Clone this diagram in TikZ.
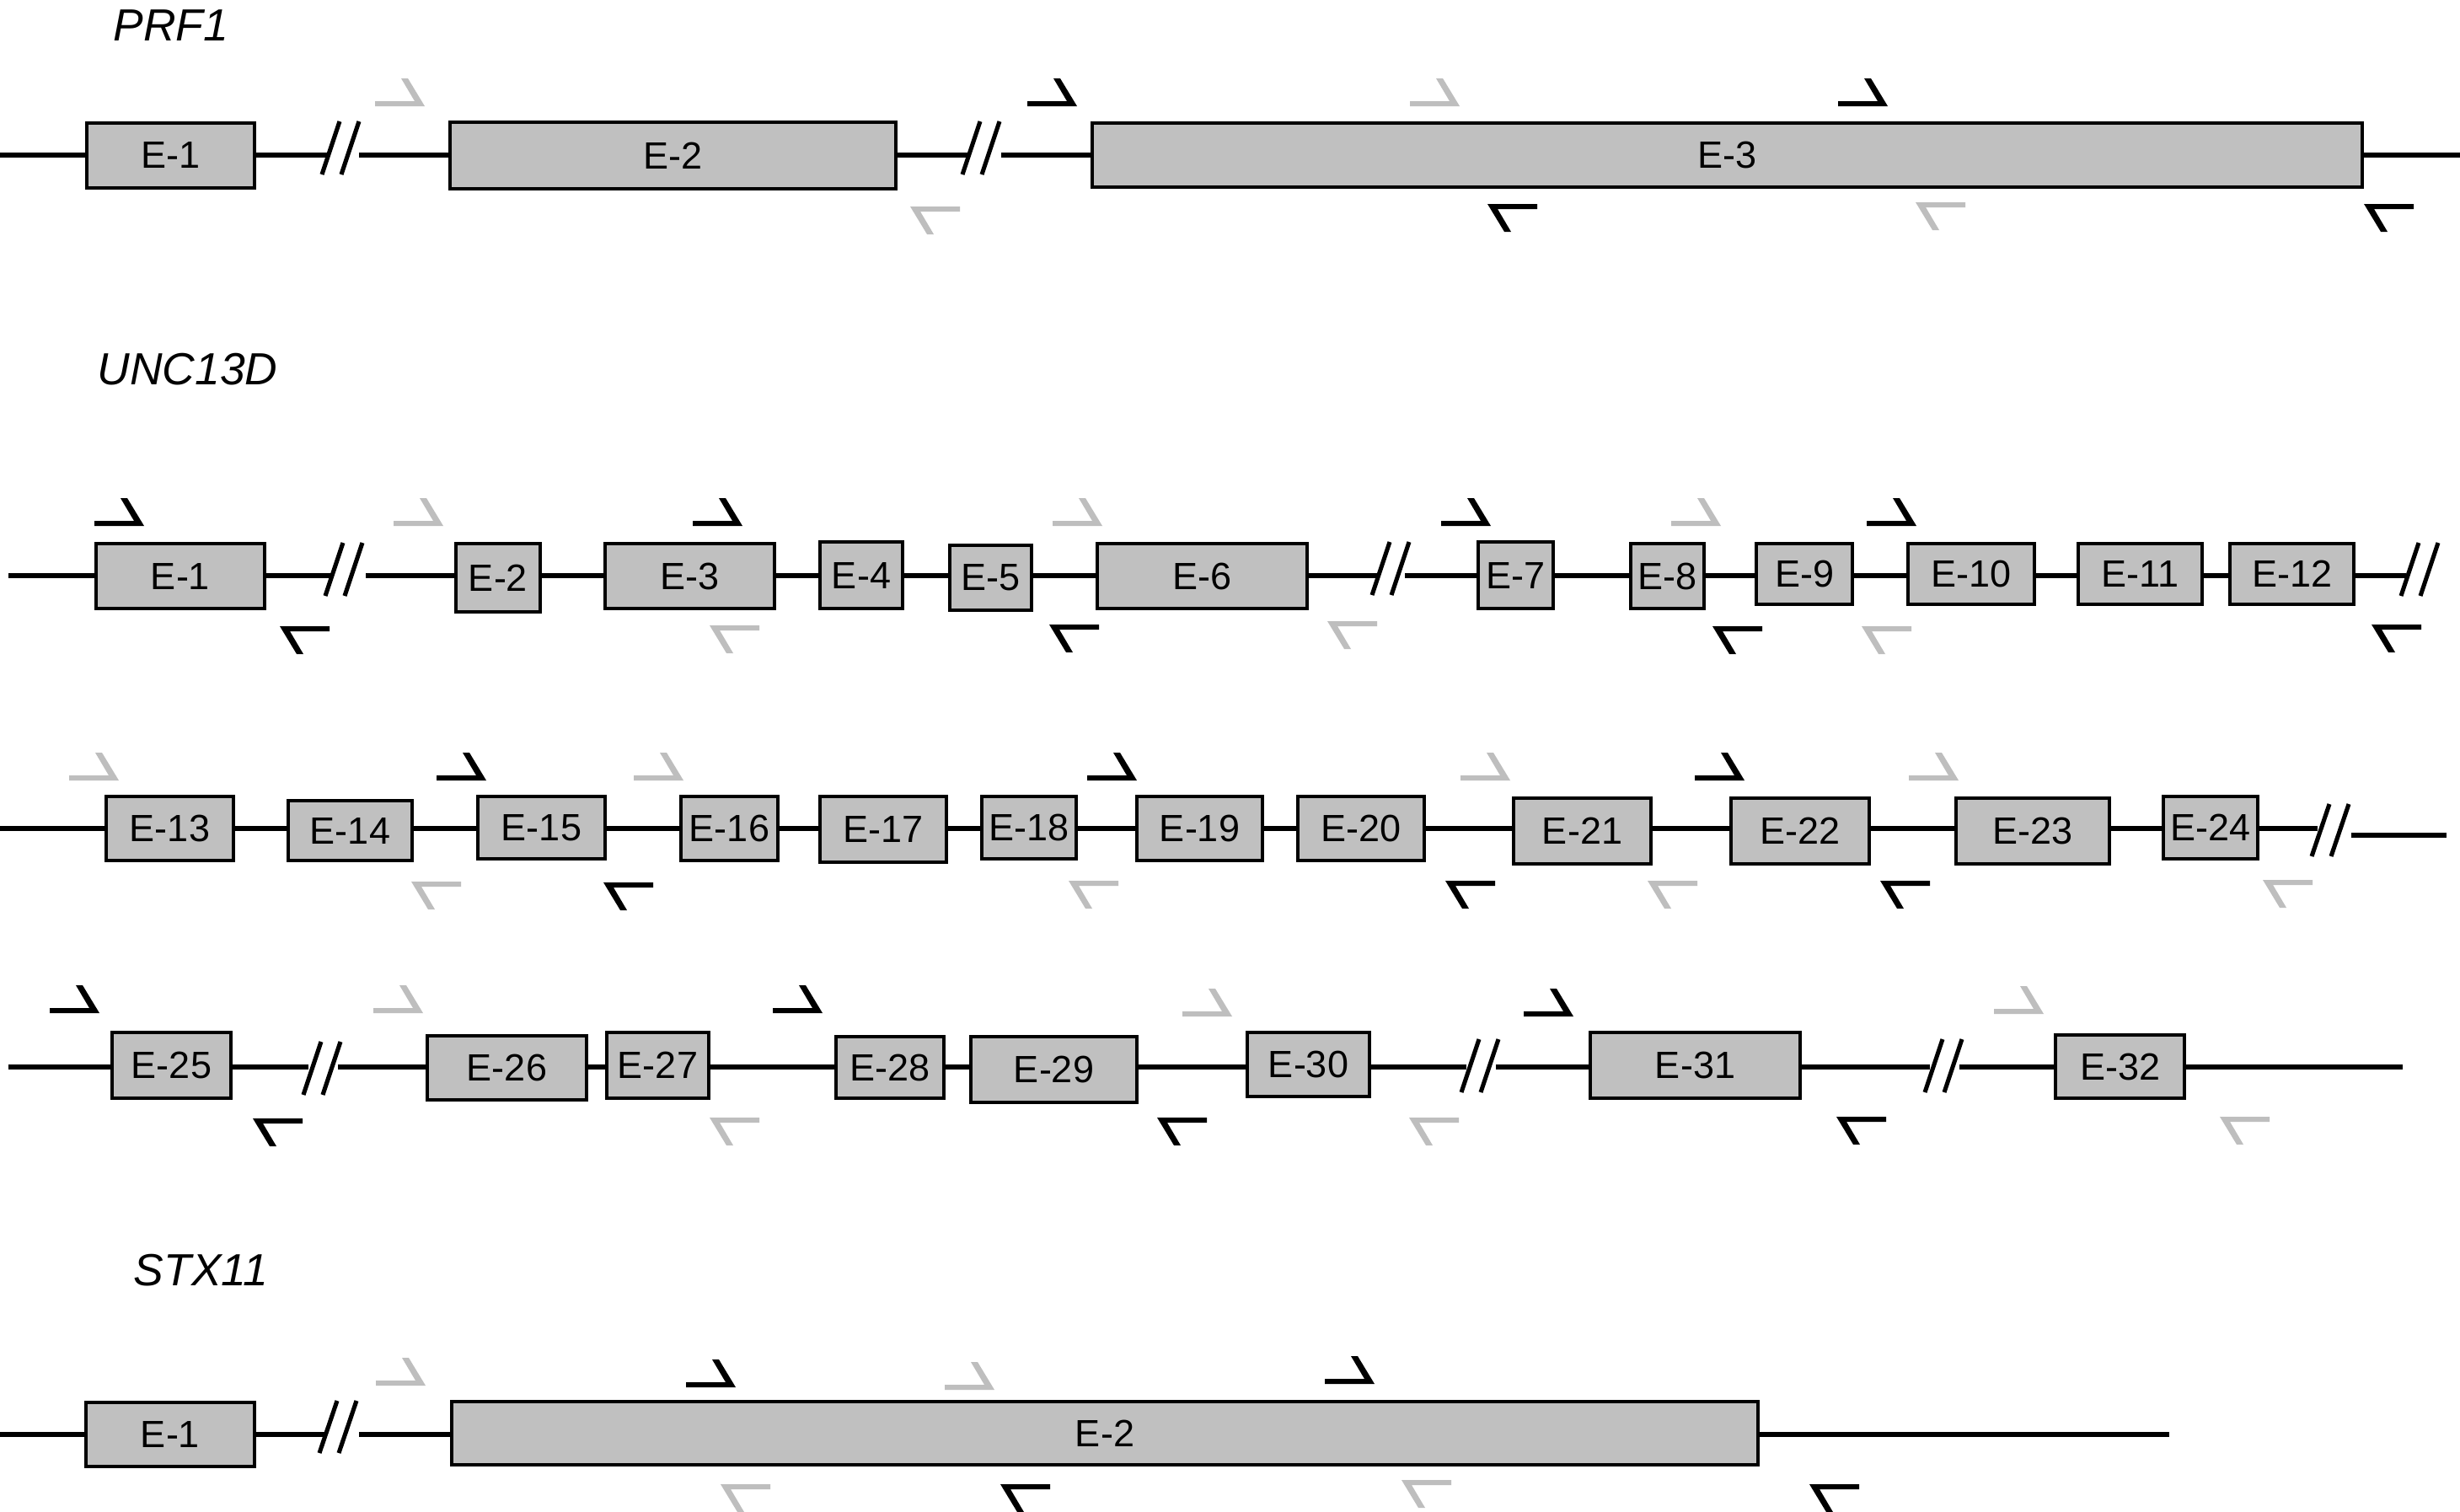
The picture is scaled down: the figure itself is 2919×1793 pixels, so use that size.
\documentclass[tikz,border=0pt]{standalone}
\usepackage{fontspec}
\setmainfont{Liberation Sans}
\definecolor{exonfill}{RGB}{192,192,192}
\definecolor{pgray}{RGB}{190,190,190}
\tikzset{
  exon/.style={draw=black, line width=1.14pt, fill=exonfill, inner sep=0pt,
    font=\fontsize{12.8}{14}\selectfont, text=black},
  bb/.style={line width=1.71pt, line cap=butt},
  slashln/.style={line width=1.45pt, line cap=butt},
  gene/.style={anchor=base west, inner sep=0pt, font=\fontsize{15.2}{18}\selectfont\itshape},
}
% exon box: name, x1, x2, y1, y2, label (pixel units)
\newcommand\exon[6]{\node[exon, minimum width={(#3-#2-4)*0.01cm},
  minimum height={(#5-#4-4)*0.01cm}] (#1) at ({(#2+#3)/2},{(#4+#5)/2}) {#6};}
% backbone segment on row line #1
\newcommand\seg[3]{\draw[bb] (#2 |- #1) -- (#3 |- #1);}
% break mark: bottom x of first slash, bottom y, top y
\newcommand\brk[3]{\draw[slashln] (#1,#2) -- ({#1+21},#3);
  \draw[slashln] ({#1+23},#2) -- ({#1+44},#3);}
% forward primer: colour, tip x, bar y
\newcommand\fwdp[3]{\fill[#1] ({#2-59},{#3+3}) -- ({#2},{#3+3}) -- ({#2-20},{#3-30})
  -- ({#2-28},{#3-30}) -- ({#2-12},{#3-3}) -- ({#2-59},{#3-3}) -- cycle;}
% reverse primer: colour, left x, bar y
\newcommand\revp[3]{\fill[#1] ({#2+59},{#3-3}) -- ({#2},{#3-3}) -- ({#2+20},{#3+30})
  -- ({#2+28},{#3+30}) -- ({#2+12},{#3+3}) -- ({#2+59},{#3+3}) -- cycle;}

\begin{document}
\begin{tikzpicture}[x=0.01cm,y=-0.01cm]
\path[use as bounding box, fill=white] (0,0) rectangle (2919,1793);

% ---------------- PRF1 ----------------
\node[gene] (tprf) at (134,48) {PRF1};
\coordinate (R1) at (0,184);
\exon{p1}{101}{304}{144}{225}{E-1}
\exon{p2}{532}{1065}{143}{226}{E-2}
\exon{p3}{1294}{2805}{144}{224}{E-3}
\coordinate (p0) at (0,184);
\coordinate (pend) at (2919,184);
\coordinate (pa1) at (389,184); \coordinate (pa2) at (426,184);
\coordinate (pb1) at (1149,184); \coordinate (pb2) at (1188,184);
\seg{R1}{p0}{p1.west}
\seg{R1}{p1.east}{pa1}
\seg{R1}{pa2}{p2.west}
\seg{R1}{p2.east}{pb1}
\seg{R1}{pb2}{p3.west}
\seg{R1}{p3.east}{pend}
\brk{382}{207}{144}
\brk{1142}{207}{144}
\fwdp{pgray}{504}{123}
\fwdp{black}{1278}{123}
\fwdp{pgray}{1732}{123}
\fwdp{black}{2240}{123}
\revp{pgray}{1080}{248}
\revp{black}{1765}{245}
\revp{pgray}{2273}{243}
\revp{black}{2805}{245}

% ---------------- UNC13D ----------------
\node[gene] (tunc) at (115,456) {UNC13D};
% row 2
\coordinate (R2) at (0,683);
\exon{u1}{112}{316}{643}{724}{E-1}
\exon{u2}{539}{643}{643}{728}{E-2}
\exon{u3}{716}{921}{643}{724}{E-3}
\exon{u4}{971}{1073}{641}{724}{E-4}
\exon{u5}{1125}{1226}{645}{726}{E-5}
\exon{u6}{1300}{1553}{643}{724}{E-6}
\exon{u7}{1752}{1845}{641}{724}{E-7}
\exon{u8}{1933}{2024}{643}{724}{E-8}
\exon{u9}{2082}{2200}{643}{719}{E-9}
\exon{u10}{2262}{2416}{643}{719}{E-10}
\exon{u11}{2464}{2615}{643}{719}{E-11}
\exon{u12}{2644}{2795}{643}{719}{E-12}
\coordinate (q0) at (10,683);
\coordinate (qa1) at (392,683); \coordinate (qa2) at (434,683);
\coordinate (qb1) at (1634,683); \coordinate (qb2) at (1667,683);
\coordinate (qc1) at (2855,683);
\seg{R2}{q0}{u1.west}
\seg{R2}{u1.east}{qa1}
\seg{R2}{qa2}{u2.west}
\seg{R2}{u2.east}{u3.west}
\seg{R2}{u3.east}{u4.west}
\seg{R2}{u4.east}{u5.west}
\seg{R2}{u5.east}{u6.west}
\seg{R2}{u6.east}{qb1}
\seg{R2}{qb2}{u7.west}
\seg{R2}{u7.east}{u8.west}
\seg{R2}{u8.east}{u9.west}
\seg{R2}{u9.east}{u10.west}
\seg{R2}{u10.east}{u11.west}
\seg{R2}{u11.east}{u12.west}
\seg{R2}{u12.east}{qc1}
\brk{386}{707}{644}
\brk{1628}{706}{643}
\brk{2849}{707}{644}
\fwdp{black}{171}{621}
\fwdp{pgray}{526}{621}
\fwdp{black}{881}{621}
\fwdp{pgray}{1308}{621}
\fwdp{black}{1769}{621}
\fwdp{pgray}{2042}{621}
\fwdp{black}{2274}{621}
\revp{black}{332}{746}
\revp{pgray}{842}{745}
\revp{black}{1245}{744}
\revp{pgray}{1575}{740}
\revp{black}{2032}{746}
\revp{pgray}{2209}{746}
\revp{black}{2814}{744}

% row 3
\coordinate (R3) at (0,983);
\exon{u13}{124}{279}{943}{1023}{E-13}
\exon{u14}{340}{491}{948}{1023}{E-14}
\exon{u15}{565}{720}{943}{1021}{E-15}
\exon{u16}{806}{925}{943}{1023}{E-16}
\exon{u17}{971}{1125}{943}{1025}{E-17}
\exon{u18}{1163}{1279}{943}{1021}{E-18}
\exon{u19}{1347}{1500}{943}{1023}{E-19}
\exon{u20}{1538}{1692}{943}{1023}{E-20}
\exon{u21}{1794}{1961}{945}{1027}{E-21}
\exon{u22}{2052}{2220}{945}{1027}{E-22}
\exon{u23}{2319}{2505}{945}{1027}{E-23}
\exon{u24}{2565}{2681}{943}{1021}{E-24}
\coordinate (r0) at (0,983);
\coordinate (ra1) at (2750,983);
\coordinate (ra2) at (2790,991); \coordinate (rend) at (2903,991);
\seg{R3}{r0}{u13.west}
\seg{R3}{u13.east}{u14.west}
\seg{R3}{u14.east}{u15.west}
\seg{R3}{u15.east}{u16.west}
\seg{R3}{u16.east}{u17.west}
\seg{R3}{u17.east}{u18.west}
\seg{R3}{u18.east}{u19.west}
\seg{R3}{u19.east}{u20.west}
\seg{R3}{u20.east}{u21.west}
\seg{R3}{u21.east}{u22.west}
\seg{R3}{u22.east}{u23.west}
\seg{R3}{u23.east}{u24.west}
\seg{R3}{u24.east}{ra1}
\draw[bb] (ra2) -- (rend);
\brk{2743}{1016}{954}
\fwdp{pgray}{141}{923}
\fwdp{black}{577}{923}
\fwdp{pgray}{811}{923}
\fwdp{black}{1349}{923}
\fwdp{pgray}{1792}{923}
\fwdp{black}{2070}{923}
\fwdp{pgray}{2324}{923}
\revp{pgray}{488}{1049}
\revp{black}{716}{1050}
\revp{pgray}{1268}{1048}
\revp{black}{1715}{1048}
\revp{pgray}{1955}{1048}
\revp{black}{2231}{1048}
\revp{pgray}{2685}{1047}

% row 4
\coordinate (R4) at (0,1266);
\exon{u25}{131}{276}{1223}{1305}{E-25}
\exon{u26}{505}{698}{1227}{1307}{E-26}
\exon{u27}{718}{843}{1223}{1305}{E-27}
\exon{u28}{990}{1122}{1228}{1305}{E-28}
\exon{u29}{1150}{1351}{1228}{1310}{E-29}
\exon{u30}{1478}{1627}{1223}{1303}{E-30}
\exon{u31}{1885}{2138}{1223}{1305}{E-31}
\exon{u32}{2437}{2594}{1226}{1305}{E-32}
\coordinate (s0) at (10,1266);
\coordinate (sa1) at (366,1266); \coordinate (sa2) at (401,1266);
\coordinate (sb1) at (1740,1266); \coordinate (sb2) at (1775,1266);
\coordinate (sc1) at (2290,1266); \coordinate (sc2) at (2325,1266);
\coordinate (send) at (2851,1266);
\seg{R4}{s0}{u25.west}
\seg{R4}{u25.east}{sa1}
\seg{R4}{sa2}{u26.west}
\seg{R4}{u26.east}{u27.west}
\seg{R4}{u27.east}{u28.west}
\seg{R4}{u28.east}{u29.west}
\seg{R4}{u29.east}{u30.west}
\seg{R4}{u30.east}{sb1}
\seg{R4}{sb2}{u31.west}
\seg{R4}{u31.east}{sc1}
\seg{R4}{sc2}{u32.west}
\seg{R4}{u32.east}{send}
\brk{360}{1299}{1236}
\brk{1734}{1296}{1233}
\brk{2284}{1296}{1233}
\fwdp{black}{118}{1199}
\fwdp{pgray}{502}{1199}
\fwdp{black}{976}{1199}
\fwdp{pgray}{1462}{1203}
\fwdp{black}{1867}{1203}
\fwdp{pgray}{2425}{1200}
\revp{black}{300}{1330}
\revp{pgray}{842}{1329}
\revp{black}{1373}{1329}
\revp{pgray}{1672}{1329}
\revp{black}{2179}{1328}
\revp{pgray}{2634}{1328}

% ---------------- STX11 ----------------
\node[gene] (tstx) at (158,1525) {STX11};
\coordinate (R5) at (0,1702);
\exon{x1}{100}{304}{1662}{1742}{E-1}
\exon{x2}{534}{2088}{1661}{1740}{E-2}
\coordinate (x0) at (0,1702);
\coordinate (xa1) at (385,1702); \coordinate (xa2) at (426,1702);
\coordinate (xend) at (2574,1702);
\seg{R5}{x0}{x1.west}
\seg{R5}{x1.east}{xa1}
\seg{R5}{xa2}{x2.west}
\seg{R5}{x2.east}{xend}
\brk{379}{1724}{1662}
\fwdp{pgray}{505}{1641}
\fwdp{black}{873}{1643}
\fwdp{pgray}{1180}{1646}
\fwdp{black}{1631}{1639}
\revp{pgray}{855}{1764}
\revp{black}{1187}{1764}
\revp{pgray}{1663}{1759}
\revp{black}{2147}{1764}
\end{tikzpicture}
\end{document}
